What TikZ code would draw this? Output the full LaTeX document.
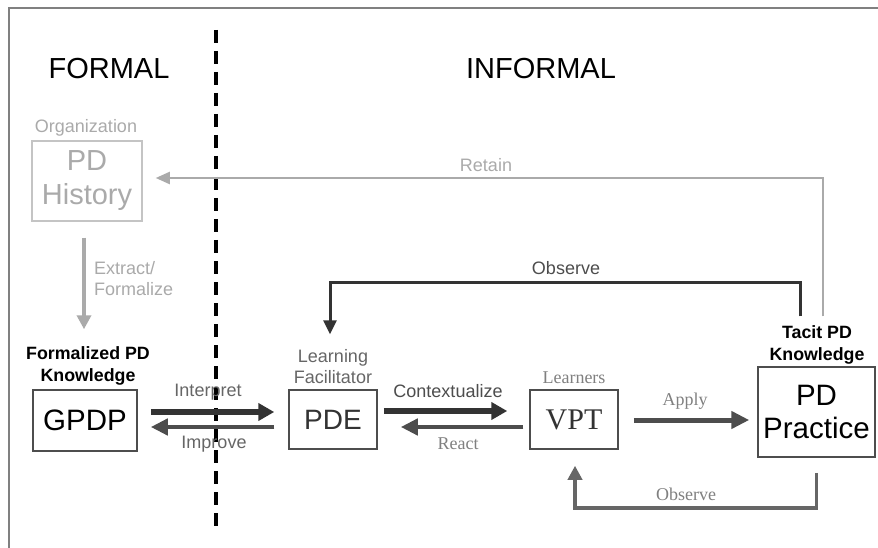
\documentclass[tikz,border=0pt]{standalone}
\usepackage{fontspec}
\setmainfont{Liberation Sans}
\newfontfamily\serifface{Liberation Serif}
\usetikzlibrary{arrows.meta}
\definecolor{ink}{HTML}{333333}
\definecolor{inkmid}{HTML}{4D4D4D}
\definecolor{inksoft}{HTML}{666666}
\definecolor{faint}{HTML}{AAAAAA}
\definecolor{faintbox}{HTML}{C4C4C4}
\tikzset{
  box/.style={draw=inkmid, line width=1.5pt, inner sep=0pt, align=center},
  lbl/.style={font=\fontsize{18}{21}\selectfont, align=center, inner sep=0pt},
  seriflbl/.style={font=\serifface\fontsize{18}{21}\selectfont, inner sep=0pt},
  heading/.style={font=\fontsize{29}{32}\selectfont, inner sep=0pt},
  boldlbl/.style={font=\bfseries\fontsize{17.8}{22}\selectfont, align=center, inner sep=0pt},
  thick arrow/.style={draw=ink, line width=5.5pt, -{Triangle[length=16pt,width=17pt]}},
  back arrow/.style={draw=inkmid, line width=4.5pt, -{Triangle[length=17pt,width=16pt]}},
}
\begin{document}
\begin{tikzpicture}[x=1pt,y=-1pt]
\useasboundingbox (0,0) rectangle (878,548);
\fill[white] (0,0) rectangle (878,548);

% outer frame (only top and left edges fall inside the page)
\draw[color=gray, line width=2pt] (878,8) -- (9,8) -- (9,548);

% boundary between the formal and informal sides
\coordinate (divtop) at (216,30);
\coordinate (divbot) at (216,530);
\draw[black, line width=3.5pt, dash pattern=on 13pt off 8pt] (divtop) -- (divbot);

\node[heading] (formal) at (109,69) {FORMAL};
\node[heading] (informal) at (541,69) {INFORMAL};

% boxes
\node[box, draw=faintbox, text=faint, minimum width=110pt, minimum height=80pt,
      font=\fontsize{29}{34}\selectfont] (ph) at (87,181) {PD\\History};
\node[box, minimum width=104pt, minimum height=61pt,
      font=\fontsize{29.5}{32}\selectfont] (gpdp) at (85,420.5) {GPDP};
\node[box, minimum width=88pt, minimum height=59pt, text=ink,
      font=\fontsize{28}{30}\selectfont] (pde) at (333,419.5) {PDE};
\node[box, minimum width=88pt, minimum height=59pt, text=ink,
      font=\serifface\fontsize{30}{32}\selectfont] (vpt) at (574,419.5) {VPT};
\node[box, minimum width=117pt, minimum height=90pt,
      font=\fontsize{29.5}{33}\selectfont] (pp) at (816.5,412) {PD\\Practice};

% captions above the boxes
\node[lbl, text=faint] (org) at (86,128) {Organization};
\node[boldlbl] (formk) at (88,366) {Formalized PD\\Knowledge};
\node[lbl, text=inksoft] (facil) at (333,367) {Learning\\Facilitator};
\node[seriflbl, text=gray] (learners) at (574,378) {Learners};
\node[boldlbl] (tacit) at (817,344.5) {Tacit PD\\Knowledge};

% Extract / Formalize
\draw[draw=faint, line width=3.5pt, -{Triangle[length=14pt,width=14pt]}]
  ([xshift=-3pt,yshift=-16pt]ph.south) -- ([xshift=-1pt,yshift=60pt]gpdp.north);
\node[lbl, text=faint, align=left, anchor=west] (extract) at (94,279) {Extract/\\Formalize};

% Interpret / Improve
\draw[thick arrow] ([xshift=13pt,yshift=8.5pt]gpdp.east) -- ([xshift=-14pt,yshift=7.5pt]pde.west);
\draw[back arrow] ([xshift=-14pt,yshift=-7.5pt]pde.west) -- ([xshift=13pt,yshift=-6.5pt]gpdp.east);
\node[lbl, text=inksoft] (interp) at (208,392) {Interpret};
\node[lbl, text=inksoft] (improve) at (214,444) {Improve};

% Contextualize / React
\draw[thick arrow] ([xshift=6pt,yshift=8.5pt]pde.east) -- ([xshift=-22pt,yshift=8.5pt]vpt.west);
\draw[back arrow] ([xshift=-6pt,yshift=-7.5pt]vpt.west) -- ([xshift=23pt,yshift=-7.5pt]pde.east);
\node[lbl, text=inkmid] (context) at (448,391) {Contextualize};
\node[seriflbl, text=gray] (react) at (458,444) {React};

% Apply
\draw[draw=inkmid, line width=5pt, -{Triangle[length=18pt,width=17pt]}]
  ([xshift=15pt,yshift=-0.5pt]vpt.east) -- ([xshift=-8pt,yshift=-8pt]pp.west);
\node[seriflbl, text=gray] (apply) at (685,401) {Apply};

% Observe (practice back to the learners)
\draw[draw=inksoft, line width=3.5pt, -{Triangle[length=14pt,width=14pt]}]
  ([yshift=-15pt]pp.south) -- ++(0,35) -| ([xshift=1pt,yshift=-16pt]vpt.south);
\node[seriflbl, text=gray] (obsb) at (686,494) {Observe};

% Observe (practice back to the facilitator)
\draw[draw=ink, line width=3pt, -{Triangle[length=14pt,width=13pt]}]
  ([xshift=-16pt,yshift=50pt]pp.north) -- ++(0,-34) -| ([xshift=-3pt,yshift=55pt]pde.north);
\node[lbl, text=inkmid] (obst) at (566,268) {Observe};

% Retain (practice back to the organization)
\draw[draw=faint, line width=2.2pt, -{Triangle[length=14pt,width=12pt]}]
  ([xshift=6.5pt,yshift=50pt]pp.north) |- ([xshift=13pt,yshift=3pt]ph.east);
\node[lbl, text=faint] (retain) at (486,165) {Retain};
\end{tikzpicture}
\end{document}
